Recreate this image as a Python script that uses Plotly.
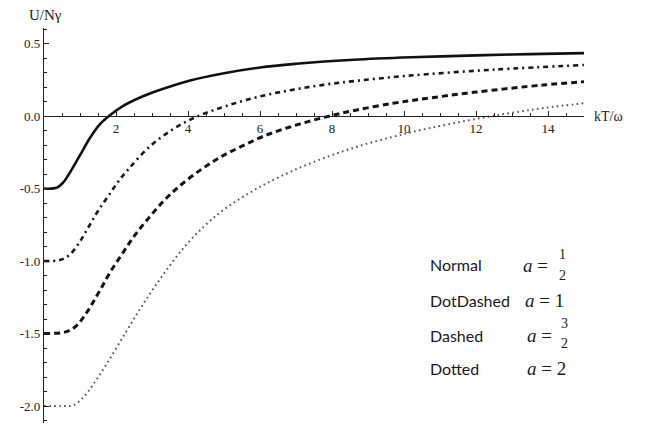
import plotly.graph_objects as go

# Internal energy per oscillator versus reduced temperature, four values of a
x_half = [0, 0.35, 0.53, 0.72, 1.0, 1.28, 1.55, 1.83, 2.2, 2.67, 3.13, 4.06, 5.0, 6.0, 7.0, 8.6, 10.2, 12.0, 13.5, 15]
y_half = [-0.5, -0.495, -0.46, -0.39, -0.27, -0.15, -0.058, 0.005, 0.07, 0.128, 0.172, 0.245, 0.295, 0.335, 0.36, 0.388, 0.405, 0.418, 0.427, 0.434]

x_one = [0, 0.44, 0.72, 1.0, 1.25, 1.5, 1.79, 2.06, 2.35, 2.94, 3.59, 4.24, 5.07, 6.0, 6.88, 7.76, 8.69, 10.07, 12.5, 15]
y_one = [-1.0, -0.993, -0.955, -0.865, -0.76, -0.655, -0.55, -0.453, -0.365, -0.21, -0.09, -0.005, 0.07, 0.135, 0.18, 0.215, 0.243, 0.277, 0.32, 0.352]

x_three_half = [0, 0.58, 0.86, 1.09, 1.3, 1.56, 1.83, 2.2, 2.53, 2.9, 3.31, 3.73, 4.33, 4.89, 5.44, 6.09, 6.93, 7.85, 8.69, 9.7, 10.44, 12.0, 13.87, 15]
y_three_half = [-1.5, -1.49, -1.455, -1.39, -1.31, -1.2, -1.08, -0.94, -0.82, -0.706, -0.59, -0.49, -0.375, -0.285, -0.215, -0.14, -0.068, -0.005, 0.042, 0.088, 0.115, 0.165, 0.214, 0.237]

x_two = [0, 0.5, 0.81, 1.09, 1.37, 1.74, 2.25, 2.67, 3.04, 3.5, 3.96, 4.43, 4.89, 5.35, 5.81, 6.2, 6.93, 7.85, 8.78, 9.7, 10.35, 12.0, 12.94, 13.87, 15]
y_two = [-2.0, -2.0, -1.995, -1.94, -1.85, -1.71, -1.5, -1.33, -1.19, -1.03, -0.885, -0.765, -0.665, -0.585, -0.515, -0.462, -0.375, -0.283, -0.205, -0.143, -0.103, -0.02, 0.02, 0.055, 0.088]

x_ticks = [2, 4, 6, 8, 10, 12, 14]
y_ticks = [-2.0, -1.5, -1.0, -0.5, 0.0, 0.5]
y_tick_text = ["-2.0", "-1.5", "-1.0", "-0.5", "0.0", "0.5"]

legend_names = ["Normal", "DotDashed", "Dashed", "Dotted"]

X_RANGE = [0, 15]
Y_RANGE = [-2.117, 0.607]

SERIF = "Liberation Serif, Times New Roman, serif"
SANS = "Lato, Liberation Sans, sans-serif"

fig = go.Figure()

styles = [
    (x_half, y_half, dict(color="#111111", width=2.6, dash="solid")),
    (x_one, y_one, dict(color="#1a1a1a", width=2.6, dash="5px,4px,2px,4px")),
    (x_three_half, y_three_half, dict(color="#151515", width=3.0, dash="6px,4px")),
    (x_two, y_two, dict(color="#555555", width=2.0, dash="1.6px,3.4px")),
]
for (xs, ys, ln), name in zip(styles, legend_names):
    fig.add_trace(go.Scatter(
        x=xs, y=ys, mode="lines", name=name, showlegend=False,
        line=dict(shape="spline", smoothing=1.0, **ln),
        hoverinfo="skip",
    ))

zero_pos = (0 - Y_RANGE[0]) / (Y_RANGE[1] - Y_RANGE[0])

fig.update_xaxes(
    range=X_RANGE, showgrid=False, zeroline=False,
    showline=True, linecolor="#222222", linewidth=1.2,
    anchor="free", position=zero_pos, side="bottom",
    tickvals=x_ticks, ticks="inside", ticklen=5, tickwidth=1, tickcolor="#222222",
    minor=dict(ticks="inside", dtick=0.5, tick0=0, ticklen=3, tickwidth=1, tickcolor="#222222"),
    tickfont=dict(family=SERIF, size=13, color="#222222"),
)
fig.update_yaxes(
    range=Y_RANGE, showgrid=False, zeroline=False,
    showline=True, linecolor="#222222", linewidth=1.2,
    tickvals=y_ticks, ticktext=y_tick_text,
    ticks="inside", ticklen=5, tickwidth=1, tickcolor="#222222",
    minor=dict(ticks="inside", dtick=0.1, tick0=0, ticklen=3, tickwidth=1, tickcolor="#222222"),
    tickfont=dict(family=SERIF, size=13, color="#222222"),
)

# Plot-area pixel helpers (plot spans 44..584 horizontally, 28..423 vertically)
def fx(px):
    return (px - 44) / 540.0


def fy(py):
    return (423 - py) / 395.0


annotations = [
    dict(text="U/Nγ", x=fx(45), y=fy(15), xanchor="center", yanchor="middle",
         font=dict(family=SERIF, size=15, color="#222222")),
    dict(text="kT/ω", x=1, y=zero_pos, xanchor="left", yanchor="middle", xshift=8,
         font=dict(family=SERIF, size=14, color="#222222")),
]

row_y = [264, 300, 335, 368]
for name, py in zip(legend_names, row_y):
    annotations.append(dict(text=name, x=fx(428), y=fy(py), xanchor="left", yanchor="middle",
                            font=dict(family=SANS, size=16, color="#1a1a1a")))

math_font = dict(family=SERIF, size=19, color="#1a1a1a")
frac_font = dict(family=SERIF, size=14, color="#1a1a1a")
annotations += [
    dict(text="<i>a</i> =", x=fx(521), y=fy(265), xanchor="left", yanchor="middle", font=math_font),
    dict(text="1", x=fx(562), y=fy(255), xanchor="center", yanchor="middle", font=frac_font),
    dict(text="2", x=fx(562), y=fy(275), xanchor="center", yanchor="middle", font=frac_font),
    dict(text="<i>a</i> = 1", x=fx(523), y=fy(300), xanchor="left", yanchor="middle", font=math_font),
    dict(text="<i>a</i> =", x=fx(525), y=fy(335), xanchor="left", yanchor="middle", font=math_font),
    dict(text="3", x=fx(564), y=fy(323), xanchor="center", yanchor="middle", font=frac_font),
    dict(text="2", x=fx(564), y=fy(343), xanchor="center", yanchor="middle", font=frac_font),
    dict(text="<i>a</i> = 2", x=fx(525), y=fy(368), xanchor="left", yanchor="middle", font=math_font),
]
for a in annotations:
    a.update(xref="paper", yref="paper", showarrow=False)

fig.update_layout(
    width=648, height=424, autosize=False,
    margin=dict(l=44, r=64, t=28, b=1),
    paper_bgcolor="white", plot_bgcolor="white",
    annotations=annotations,
)

fig.write_html("out.html")
